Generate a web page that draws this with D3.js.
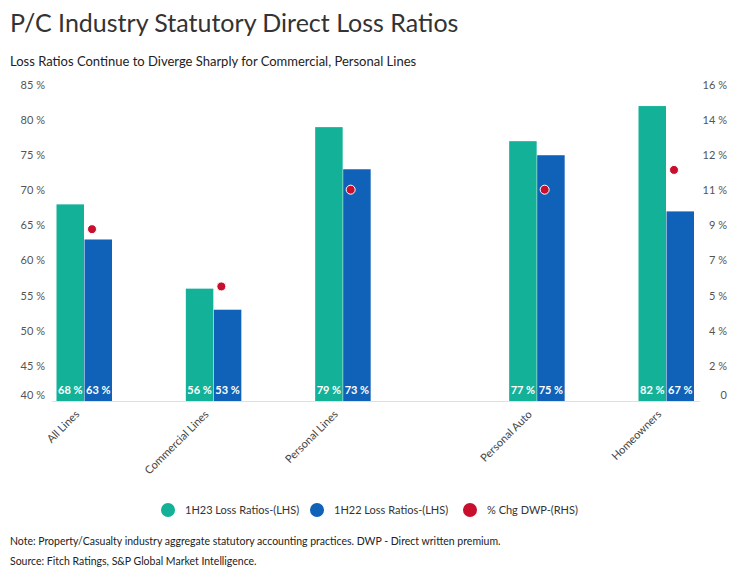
<!DOCTYPE html>
<html><head><meta charset="utf-8">
<script src="https://cdn.jsdelivr.net/npm/d3@7"></script>
<style>body{margin:0;background:#fff;font-family:Lato,sans-serif;}</style>
</head><body><svg id="chart" width="753" height="575"></svg>
<script>
const categories = ["All Lines", "Commercial Lines", "Personal Lines", "Personal Auto", "Homeowners"];
const catPos = [0, 1, 2, 3.5, 4.5];
const lr1H23 = [68, 56, 79, 77, 82];
const lr1H22 = [63, 53, 73, 75, 67];
const dwpChg = [8.7, 5.8, 10.7, 10.7, 11.7];
const leftTicks = [40, 45, 50, 55, 60, 65, 70, 75, 80, 85];
const rightTicks = [0, 2, 4, 5, 7, 9, 11, 12, 14, 16];

const svg = d3.select("#chart");
const teal = "#13b298", blue = "#0f62b8", red = "#c8102e";

svg.append("text").attr("x", 10).attr("y", 32).attr("font-size", 25).attr("fill", "#333").text("P/C Industry Statutory Direct Loss Ratios");
svg.append("text").attr("x", 10).attr("y", 66).attr("font-size", 13).attr("fill", "#222").text("Loss Ratios Continue to Diverge Sharply for Commercial, Personal Lines");

const plotTop = 85, plotBottom = 401;
const y = d3.scaleLinear().domain([40, 85]).range([plotBottom, plotTop]);
const y2 = d3.scaleLinear().domain([0, 16]).range([plotBottom, plotTop]);
const x = d3.scaleLinear().domain([0, 4.5]).range([84, 666]);
const bw = 27.5;

svg.append("line").attr("x1", 52).attr("x2", 700).attr("y1", plotBottom + 0.5).attr("y2", plotBottom + 0.5).attr("stroke", "#e0e0e0");

leftTicks.forEach((t, i) => {
  svg.append("text").attr("x", 45).attr("y", y(t) - (i === 0 ? 6 : 0)).attr("dy", "0.35em").attr("text-anchor", "end")
    .attr("font-size", 11).attr("fill", "#555").text(t + " %");
});
rightTicks.forEach((t, i) => {
  svg.append("text").attr("x", 727).attr("y", y2(16 * i / 9) - (i === 0 ? 6 : 0)).attr("dy", "0.35em").attr("text-anchor", "end")
    .attr("font-size", 11).attr("fill", "#555").text(t === 0 ? "0" : t + " %");
});

const g = svg.append("g");
categories.forEach((c, i) => {
  const cx = x(catPos[i]);
  [[lr1H23[i], teal, cx - bw], [lr1H22[i], blue, cx + 0.5]].forEach(([v, col, bx]) => {
    g.append("rect").attr("x", bx).attr("y", y(v)).attr("width", bw).attr("height", plotBottom - y(v)).attr("fill", col);
    g.append("text").attr("x", bx + bw / 2).attr("y", plotBottom - 7).attr("text-anchor", "middle")
      .attr("font-size", 11).attr("font-weight", "bold").attr("fill", "#fff").text(v + " %");
  });
  g.append("circle").attr("cx", cx + 8).attr("cy", y2(dwpChg[i])).attr("r", 4.5).attr("fill", red).attr("stroke", "#fff").attr("stroke-width", 1);
  svg.append("text").attr("transform", `translate(${cx - 4},${plotBottom + 14}) rotate(-45)`).attr("text-anchor", "end")
    .attr("font-size", 11).attr("fill", "#444").text(c);
});

const legend = [["1H23 Loss Ratios-(LHS)", teal, 168], ["1H22 Loss Ratios-(LHS)", blue, 317], ["% Chg DWP-(RHS)", red, 470]];
legend.forEach(([t, col, lx]) => {
  svg.append("circle").attr("cx", lx).attr("cy", 510).attr("r", 7).attr("fill", col);
  svg.append("text").attr("x", lx + 17).attr("y", 510).attr("dy", "0.35em").attr("font-size", 11).attr("fill", "#333").text(t);
});

svg.append("text").attr("x", 10).attr("y", 545).attr("font-size", 10.5).attr("fill", "#222").text("Note: Property/Casualty industry aggregate statutory accounting practices. DWP - Direct written premium.");
svg.append("text").attr("x", 10).attr("y", 565).attr("font-size", 10.5).attr("fill", "#222").text("Source: Fitch Ratings, S&P Global Market Intelligence.");
</script></body></html>
